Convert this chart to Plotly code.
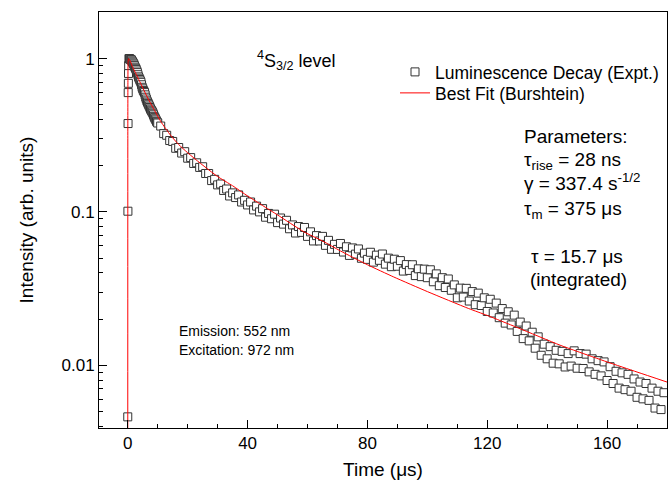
import plotly.graph_objects as go

# experimental decay, time in microseconds
rise_t = [0.0, 0.05, 0.1, 0.15, 0.2, 0.25, 0.3]
rise_i = [0.0046, 0.101, 0.377, 0.60, 0.69, 0.80, 0.90]

early_t = [0.4, 0.6, 0.8, 1.0, 1.2, 1.4, 1.6, 1.8, 2.0, 2.2, 2.4, 2.6, 2.8, 3.0, 3.2, 3.4,
           3.6, 3.8, 4.0, 4.2, 4.4, 4.6, 4.8, 5.0, 5.2, 5.4, 5.6, 5.8, 6.0, 6.2, 6.4, 6.6,
           6.8, 7.0, 7.2, 7.4, 7.6, 7.8, 8.0, 8.2, 8.4, 8.6, 8.8, 9.0, 9.2, 9.4, 9.6, 9.8,
           10.0]
early_i = [1.00, 1.00, 0.99, 0.985, 0.98, 0.965, 0.95, 0.935, 0.92, 0.90, 0.88, 0.865,
           0.85, 0.83, 0.81, 0.785, 0.76, 0.745, 0.73, 0.715, 0.70, 0.675, 0.65, 0.635,
           0.62, 0.61, 0.60, 0.58, 0.56, 0.545, 0.53, 0.52, 0.51, 0.50, 0.49, 0.48, 0.47,
           0.462, 0.455, 0.448, 0.44, 0.43, 0.42, 0.412, 0.405, 0.398, 0.39, 0.385, 0.38]

tail_t = list(range(11, 180))
tail_i = [
    0.363, 0.324, 0.316, 0.292, 0.288, 0.260, 0.263, 0.242, 0.247, 0.224,  # 11-20
    0.226, 0.207, 0.209, 0.195, 0.197, 0.178, 0.178, 0.160, 0.163, 0.150,  # 21-30
    0.152, 0.138, 0.141, 0.127, 0.133, 0.124, 0.129, 0.116, 0.119, 0.111,  # 31-40
    0.116, 0.103, 0.109, 0.100, 0.105, 0.0923, 0.0977, 0.0902, 0.0966, 0.0851,  # 41-50
    0.0912, 0.0832, 0.0881, 0.0776, 0.0822, 0.0728, 0.0802, 0.0735, 0.0791, 0.0692,  # 51-60
    0.0741, 0.0646, 0.0700, 0.0646, 0.0692, 0.0605, 0.0652, 0.0570, 0.0614, 0.0569,  # 61-70
    0.0622, 0.0547, 0.0592, 0.0520, 0.0582, 0.0530, 0.0573, 0.0498, 0.0538, 0.0490,  # 71-80
    0.0545, 0.0470, 0.0522, 0.0483, 0.0531, 0.0456, 0.0499, 0.0439, 0.0491, 0.0442,  # 81-90
    0.0481, 0.0411, 0.0453, 0.0415, 0.0452, 0.0384, 0.0425, 0.0378, 0.0423, 0.0372,  # 91-100
    0.0419, 0.0350, 0.0394, 0.0330, 0.0372, 0.0321, 0.0365, 0.0308, 0.0334, 0.0275,  # 101-110
    0.0318, 0.0278, 0.0317, 0.0262, 0.0302, 0.0248, 0.0295, 0.0245, 0.0275, 0.0224,  # 111-120
    0.0269, 0.0219, 0.0254, 0.0204, 0.0234, 0.0188, 0.0223, 0.0183, 0.0212, 0.0166,  # 121-130
    0.0191, 0.0149, 0.0180, 0.0144, 0.0164, 0.0129, 0.0153, 0.0116, 0.0137, 0.0110,  # 131-140
    0.0132, 0.0103, 0.0125, 0.0102, 0.0123, 0.00973, 0.0119, 0.00986, 0.0124, 0.00955,  # 141-150
    0.0119, 0.00951, 0.0118, 0.00904, 0.0110, 0.00871, 0.0107, 0.00851, 0.0105, 0.00794,  # 151-160
    0.00977, 0.00759, 0.00912, 0.00708, 0.00891, 0.00692, 0.00871, 0.00676, 0.00813, 0.00617,  # 161-170
    0.00776, 0.00603, 0.00759, 0.00589, 0.00708, 0.00525, 0.00676, 0.00513, 0.00661,  # 171-179
]

# Burshtein fit curve
fit_t = [0.0, 0.02, 0.05, 0.1, 0.2, 0.3, 0.7, 1.5, 2.5, 4.0, 5.4, 7.0, 9.0, 11.0, 14.3, 17.0,
         20.0, 24.3, 30.0, 35.0, 40.0, 45.0, 50.0, 58.8, 65.0, 71.0, 80.0, 88.8, 100.0,
         113.8, 120.0, 130.0, 144.3, 150.0, 160.0, 170.0, 180.0]
fit_i = [0.0001, 0.3, 0.7, 0.93, 0.99, 1.0, 0.977, 0.891, 0.813, 0.708, 0.621, 0.537, 0.457,
         0.389, 0.316, 0.275, 0.243, 0.207, 0.170, 0.148, 0.127, 0.110, 0.0955, 0.0741,
         0.0646, 0.0556, 0.0452, 0.0376, 0.0302, 0.0234, 0.0211, 0.0176, 0.0135, 0.0123,
         0.0105, 0.00902, 0.00776]

x_ticks = [0, 40, 80, 120, 160]
x_minor = [10, 20, 30, 50, 60, 70, 90, 100, 110, 130, 140, 150, 170]
y_ticks = [0.01, 0.1, 1]
y_tick_text = ["0.01", "0.1", "1"]
y_minor = [m * d for d in (0.001, 0.01, 0.1, 1) for m in range(2, 10)]

FONT = "Arial, Liberation Sans, sans-serif"

# plot area in pixels: x 99..667, y 12..428
def px(x):
    return (x - 99) / 568


def py(y):
    return (428 - y) / 416


fig = go.Figure()
fig.add_trace(go.Scatter(
    x=rise_t + early_t + tail_t, y=rise_i + early_i + tail_i, mode="markers",
    name="Luminescence Decay (Expt.)", legend="legend",
    marker=dict(symbol="square", size=8, color="white", line=dict(color="#333333", width=1)),
))
fig.add_trace(go.Scatter(
    x=fit_t, y=fit_i, mode="lines", name="Best Fit (Burshtein)", legend="legend2",
    line=dict(color="#ff0000", width=1, shape="spline", smoothing=0.6),
))

axis_common = dict(
    showline=True, linecolor="black", linewidth=1, mirror=True,
    ticks="inside", ticklen=8, tickwidth=1, tickcolor="black",
    showgrid=False, zeroline=False, automargin=False,
    tickfont=dict(family=FONT, size=17, color="black"),
)

fig.update_xaxes(
    range=[-9.6, 180], tickvals=x_ticks,
    minor=dict(tickvals=x_minor, ticks="inside", ticklen=4, tickcolor="black"),
    title=dict(text="Time (μs)", font=dict(family=FONT, size=19, color="black"), standoff=10),
    **axis_common,
)
fig.update_yaxes(
    type="log", range=[-2.41, 0.304], tickvals=y_ticks, ticktext=y_tick_text,
    minor=dict(tickvals=y_minor, ticks="inside", ticklen=4, tickcolor="black"),
    title=dict(text="Intensity (arb. units)", font=dict(family=FONT, size=19, color="black"),
               standoff=22),
    **axis_common,
)

notes = [
    ("<sup>4</sup>S<sub>3/2</sub> level", 255, 60, "left", 18),
    ("Parameters:", 522, 136, "left", 19),
    ("τ<sub>rise</sub> = 28 ns", 522, 161, "left", 19),
    ("γ = 337.4 s<sup>-1/2</sup>", 522, 182, "left", 19),
    ("τ<sub>m</sub> = 375 μs", 522, 210, "left", 19),
    ("τ = 15.7 μs", 577, 256, "center", 19),
    ("(integrated)", 578, 279, "center", 19),
    ("Emission: 552 nm", 177, 331, "left", 14),
    ("Excitation: 972 nm", 177, 350, "left", 14),
]
for text, x, y, anchor, size in notes:
    fig.add_annotation(text=text, xref="paper", yref="paper", x=px(x), y=py(y),
                       xanchor=anchor, yanchor="middle", showarrow=False,
                       font=dict(family=FONT, size=size, color="black"))

legend_style = dict(xanchor="left", yanchor="middle", bgcolor="rgba(0,0,0,0)",
                    font=dict(family=FONT, size=17.5, color="black"))

fig.update_layout(
    width=670, height=489,
    margin=dict(l=99, r=3, t=12, b=61),
    paper_bgcolor="white", plot_bgcolor="white",
    font=dict(family=FONT, color="black"),
    showlegend=True,
    legend=dict(x=px(395), y=py(72), **legend_style),
    legend2=dict(x=px(395), y=py(93), **legend_style),
)

fig.write_html("out.html", config={"displayModeBar": False},
               post_script="document.body.style.margin='0';")
